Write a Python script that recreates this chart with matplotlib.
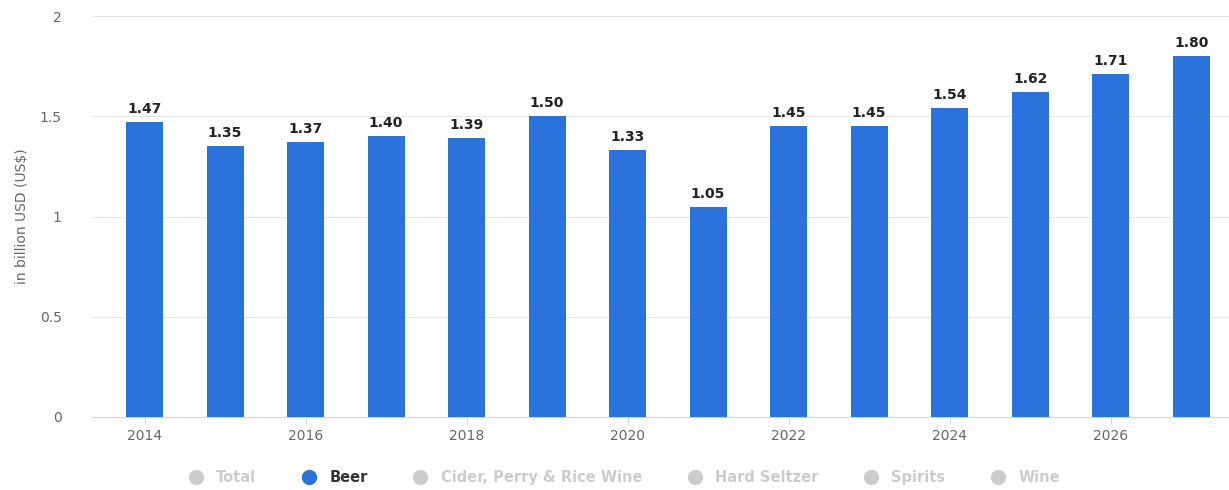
import matplotlib.pyplot as plt
from matplotlib.lines import Line2D

years = list(range(2014, 2028))
beer = [1.47, 1.35, 1.37, 1.40, 1.39, 1.50, 1.33, 1.05, 1.45, 1.45, 1.54, 1.62, 1.71, 1.80]
tick_years = [2014, 2016, 2018, 2020, 2022, 2024, 2026]
legend_names = ['Total', 'Beer', 'Cider, Perry & Rice Wine', 'Hard Seltzer', 'Spirits', 'Wine']
active = 'Beer'

blue = '#2a73dc'
grey = '#cccccc'

fig = plt.figure(figsize=(12.29, 4.9), dpi=100)
ax = fig.add_axes([0.075, 0.149, 0.925, 0.818])

x = list(range(len(years)))
ax.bar(x, beer, width=0.46, color=blue, zorder=3)
for xi, v in zip(x, beer):
    ax.text(xi, v + 0.03, f'{v:.2f}', ha='center', va='bottom', fontsize=10,
            fontweight='bold', color='#222222', zorder=4)

ax.set_xlim(-0.65, 13.47)
ax.set_ylim(0, 2)
ax.set_yticks([0, 0.5, 1, 1.5, 2])
ax.set_yticklabels(['0', '0.5', '1', '1.5', '2'])
ax.set_xticks([years.index(y) for y in tick_years])
ax.set_xticklabels([str(y) for y in tick_years])
ax.grid(axis='y', color='#e6e6e6', linewidth=0.8, zorder=0)
for s in ['top', 'right', 'left']:
    ax.spines[s].set_visible(False)
ax.spines['bottom'].set_color('#ccd6eb')
ax.tick_params(axis='y', length=0, pad=22, labelsize=10, labelcolor='#666666')
ax.tick_params(axis='x', length=5, color='#ccd6eb', labelsize=10, labelcolor='#666666', pad=4)
ax.set_ylabel('in billion USD (US$)', fontsize=10, color='#666666', labelpad=8)

handles = [Line2D([], [], marker='o', linestyle='', markersize=10,
                  color=blue if n == active else grey) for n in legend_names]
leg = fig.legend(handles, legend_names, loc='center', bbox_to_anchor=(0.505, 0.025),
                 ncol=len(legend_names), frameon=False, fontsize=10.5,
                 columnspacing=2.6, handletextpad=0.4)
for t, n in zip(leg.get_texts(), legend_names):
    t.set_color('#333333' if n == active else grey)
    t.set_fontweight('bold')

fig.savefig('out.png', dpi=100)
